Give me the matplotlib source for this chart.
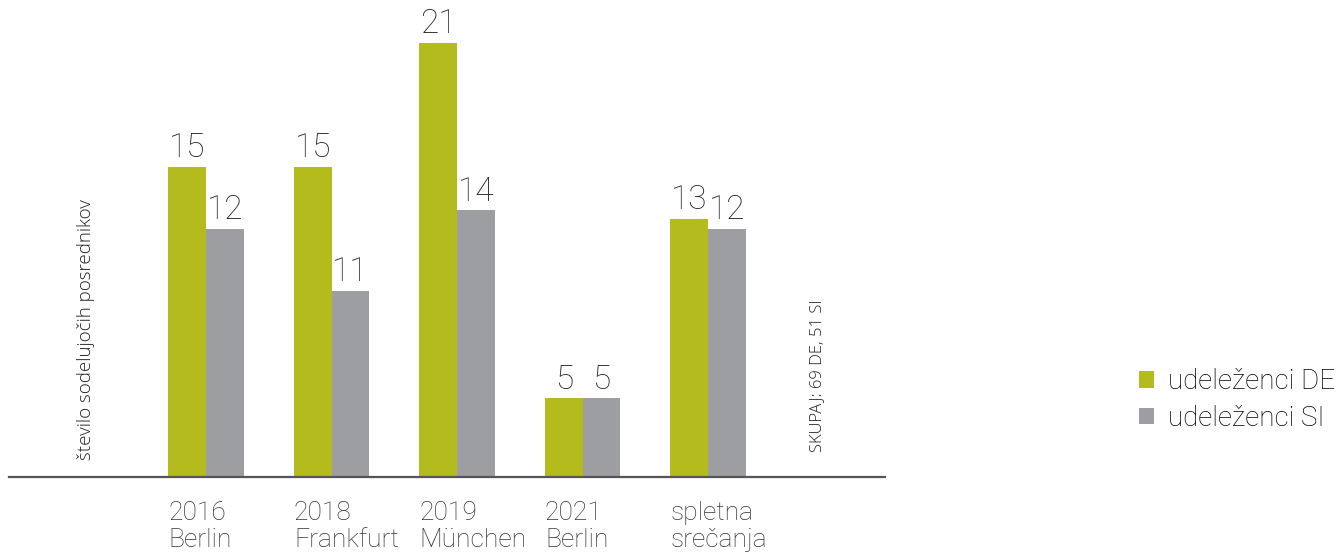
import numpy as np
import matplotlib.pyplot as plt

plt.rcParams['font.family'] = ['Roboto', 'DejaVu Sans']

kategorije = ['2016\nBerlin', '2018\nFrankfurt', '2019\nMünchen', '2021\nBerlin', 'spletna\nsrečanja']
# printed values above the bars
de = [15, 15, 21, 5, 13]
si = [12, 11, 14, 5, 12]
# bar heights as drawn in the original (not exactly to scale there)
de_visina = [15, 15, 21, 3.8, 12.5]
si_visina = [12, 9, 12.9, 3.8, 12]

zelena = '#b3bb1d'
siva = '#9d9ea2'

fig = plt.figure(figsize=(13.42, 5.53), dpi=100)
# axes: from x=9 px to 885 px, baseline at y=477 px
ax = fig.add_axes([9/1342, (553-477)/553, (885-9)/1342, 477/553])

x = np.arange(len(kategorije))
w = 0.3
b1 = ax.bar(x - w/2, de_visina, w, color=zelena, label='udeleženci DE')
b2 = ax.bar(x + w/2, si_visina, w, color=siva, label='udeleženci SI')

for bars, vals in ((b1, de), (b2, si)):
    for r, v in zip(bars, vals):
        ax.annotate(str(v), (r.get_x() + r.get_width()/2, r.get_height()),
                    xytext=(0, 2), textcoords='offset points', ha='center', va='bottom',
                    fontsize=24, fontweight='light', color='#222222')

ax.set_xlim(-1.57, 5.41)
ax.set_ylim(0, 23.08)
for s in ['top', 'right', 'left']:
    ax.spines[s].set_visible(False)
ax.spines['bottom'].set_color('#555555')
ax.spines['bottom'].set_linewidth(1.6)
ax.set_yticks([])
ax.set_xticks(x - w)
ax.set_xticklabels(kategorije, ha='left', fontsize=19, fontweight='light',
                   color='#333333', linespacing=1.2)
ax.tick_params(axis='x', length=0, pad=17)

fig.text(86/1342, 1 - 460/553, 'število sodelujočih posrednikov', rotation=90,
         ha='center', va='bottom', fontsize=13.5, family='Open Sans', fontweight='light',
         color='#222222')
fig.text(817/1342, 1 - 452/553, 'SKUPAJ: 69 DE, 51 SI', rotation=90,
         ha='center', va='bottom', fontsize=12, family='Open Sans', fontweight='light',
         color='#222222')

fig.legend(handles=[b1, b2], loc='center left', bbox_to_anchor=(1114/1342, 1 - 400/553),
           frameon=False, handlelength=0.55, handleheight=0.55,
           handletextpad=0.5, labelspacing=0.35, prop={'weight': 'light', 'size': 20})

fig.savefig('out.png', dpi=100)
